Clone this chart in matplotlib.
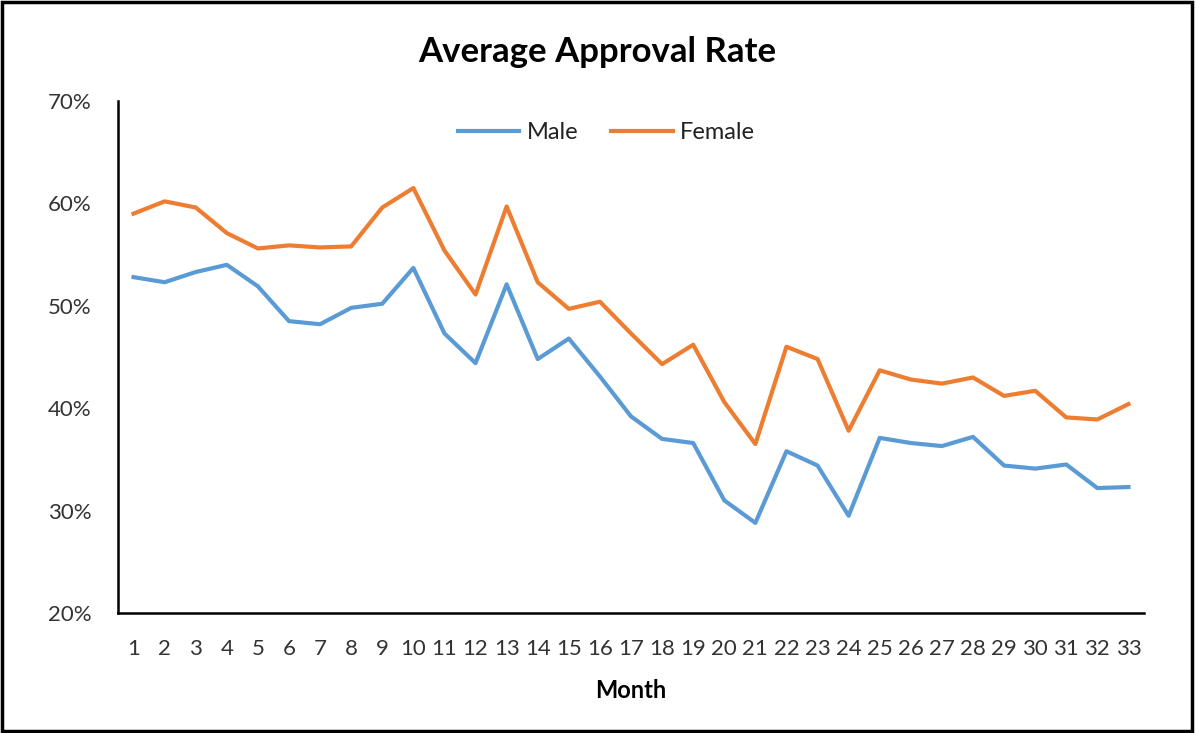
import matplotlib
matplotlib.use("Agg")
import matplotlib.pyplot as plt
from matplotlib.patches import Rectangle
from matplotlib.ticker import FuncFormatter

months = list(range(1, 34))
male = [52.8, 52.3, 53.3, 54.0, 51.9, 48.5, 48.2, 49.8, 50.2, 53.7,
        47.3, 44.4, 52.1, 44.8, 46.8, 43.1, 39.2, 37.0, 36.6, 31.0,
        28.8, 35.8, 34.4, 29.5, 37.1, 36.6, 36.3, 37.2, 34.4, 34.1,
        34.5, 32.2, 32.3]
female = [59.0, 60.2, 59.6, 57.1, 55.6, 55.9, 55.7, 55.8, 59.6, 61.5,
          55.4, 51.1, 59.7, 52.3, 49.7, 50.4, 47.3, 44.3, 46.2, 40.6,
          36.5, 46.0, 44.8, 37.8, 43.7, 42.8, 42.4, 43.0, 41.2, 41.7,
          39.1, 38.9, 40.4]
yticks = [20, 30, 40, 50, 60, 70]

plt.rcParams['font.family'] = ['Lato', 'DejaVu Sans']

fig = plt.figure(figsize=(11.96, 7.33), dpi=100)
ax = fig.add_axes([118/1196, 1 - 613/733, (1144-118)/1196, (613-101)/733])

ax.plot(months, male, color='#5B9BD5', lw=3.0, label='Male', solid_joinstyle='round')
ax.plot(months, female, color='#ED7D31', lw=3.0, label='Female', solid_joinstyle='round')

ax.set_xlim(0.5, 33.5)
ax.set_ylim(20, 70)
ax.set_yticks(yticks)
ax.yaxis.set_major_formatter(FuncFormatter(lambda v, p: f"{v:.0f}%"))
ax.set_xticks(months)
ax.set_xticklabels([str(m) for m in months])
ax.tick_params(axis='both', length=0, labelsize=16, colors='#333333')
ax.tick_params(axis='y', pad=19)
ax.tick_params(axis='x', pad=19)
for s in ['top', 'right']:
    ax.spines[s].set_visible(False)
for s in ['left', 'bottom']:
    ax.spines[s].set_color('black')
    ax.spines[s].set_linewidth(1.8)

ax.set_xlabel('Month', fontsize=17, fontweight='bold', labelpad=14)
fig.text(597/1196, 1 - 52/733, 'Average Approval Rate', ha='center', va='center',
         fontsize=25, fontweight='bold')

leg = ax.legend(loc='upper center', bbox_to_anchor=(0.476, 1.0), ncol=2, frameon=False,
                fontsize=17, handlelength=2.6, columnspacing=1.4, handletextpad=0.3)
for t in leg.get_texts():
    t.set_color('#222222')

fig.patches.append(Rectangle((0.002, 0.003), 0.995, 0.994, transform=fig.transFigure,
                             fill=False, edgecolor='black', lw=2.5))

fig.savefig('out.png', dpi=100)
